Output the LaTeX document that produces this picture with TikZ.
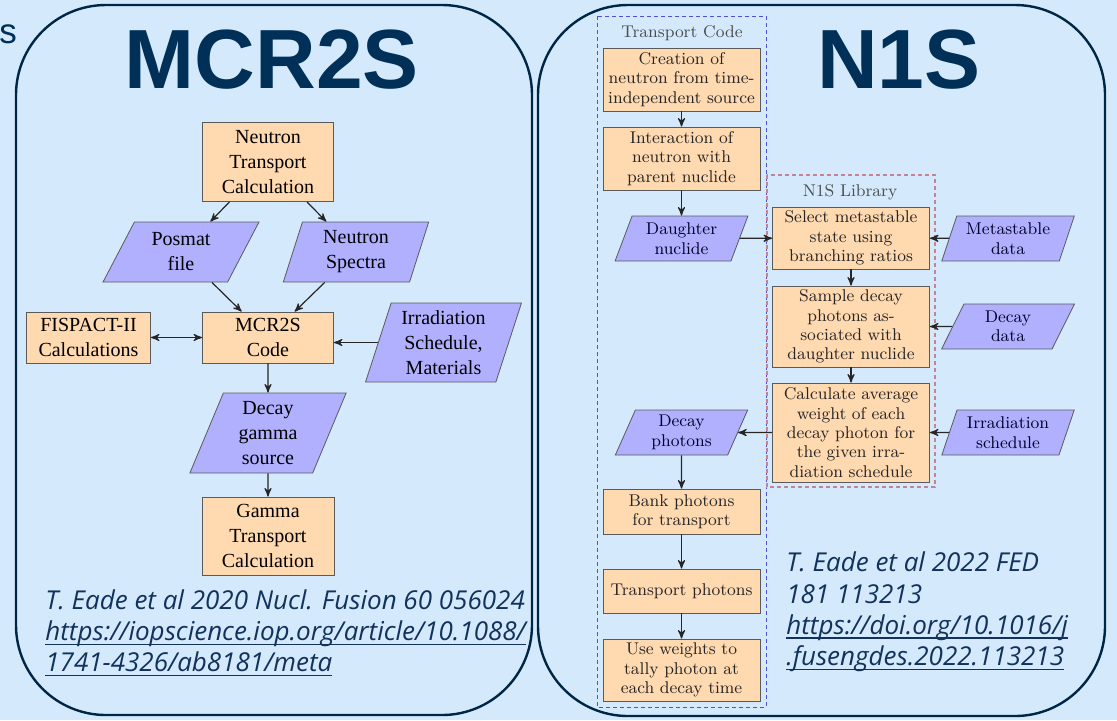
\documentclass[tikz,border=0pt]{standalone}
\usepackage{fontspec}
\newfontfamily\headfont{Liberation Sans}
\newfontfamily\timesfont{Liberation Serif}
\newfontfamily\citefont{Open Sans}
\usetikzlibrary{arrows,shapes.geometric}

\definecolor{bgblue}{RGB}{212,234,252}
\definecolor{navy}{RGB}{0,48,87}
\definecolor{citeblue}{RGB}{18,50,92}
\definecolor{boxorange}{RGB}{255,217,176}
\definecolor{iopurple}{RGB}{176,176,255}
\definecolor{edgegray}{RGB}{90,90,90}
\definecolor{tcblue}{RGB}{80,80,210}
\definecolor{libpink}{RGB}{200,130,150}

\newcommand{\ulink}[1]{\setbox0\hbox{#1}\rlap{\rule[-2.2pt]{\wd0}{0.7pt}}\box0}

\tikzset{
  panel/.style={draw=navy!80!black, line width=1.2pt, rounded corners=45pt},
  title/.style={text=navy, font=\headfont\bfseries\fontsize{42}{42}\selectfont, inner sep=0pt},
  mbox/.style={draw=edgegray, fill=boxorange, align=center, text width=60pt,
    inner sep=1pt, font=\timesfont\fontsize{10}{12.5}\selectfont},
  mio/.style 2 args={trapezium, trapezium left angle=#1, trapezium right angle=#2,
    trapezium stretches=true, draw=edgegray, fill=iopurple, align=center,
    inner sep=1pt, font=\timesfont\fontsize{10}{12.5}\selectfont},
  nbox/.style={draw=edgegray, fill=boxorange, align=center, text width=74pt,
    minimum width=78.5pt, inner sep=1pt, text=black!85,
    font=\fontsize{8.5}{9.7}\selectfont},
  nio/.style={trapezium, trapezium left angle=70, trapezium right angle=110,
    trapezium stretches=true, minimum width=66.5pt, minimum height=22.5pt,
    draw=edgegray, fill=iopurple, align=center, inner sep=1pt,
    text=black!60!blue!40!black, font=\fontsize{8.5}{9.7}\selectfont},
  grouplabel/.style={text=black!70, font=\fontsize{8.5}{9.7}\selectfont, inner sep=0pt},
  cite/.style={text=citeblue, align=left, inner sep=0pt,
    font=\citefont\itshape\fontsize{13}{15.6}\selectfont},
  arr/.style={-stealth', line width=0.6pt, black!85}
}

\begin{document}
\begin{tikzpicture}[x=0.5pt,y=-0.5pt]
  \fill[bgblue] (0,0) rectangle (1117,720);
  \useasboundingbox (0,0) rectangle (1117,720);

  % panels and titles
  \draw[panel] (16,5) rectangle (532,715);
  \draw[panel] (538,5) rectangle (1105,716);
  \node[anchor=base west, text=navy, inner sep=0pt,
    font=\headfont\fontsize{17.5}{17.5}\selectfont] (cut) at (-1,43) {s};
  \node[title] (mtitle) at (272,60) {MCR2S};
  \node[title] (ntitle) at (899,60) {N1S};

  % MCR2S
  \node[mbox, minimum width=65.5pt, minimum height=39.5pt] (ntc) at (268,162) {Neutron\\Transport\\Calculation};
  \node[mio={63.4}{116.6}, minimum width=78pt, minimum height=30pt] (posmat) at (181,252) {Posmat\\file};
  \node[mio={75}{105}, minimum width=73pt, minimum height=30pt] (spectra) at (356,252) {Neutron\\Spectra};
  \node[mbox, minimum width=65.5pt, minimum height=25.5pt] (code) at (268,337.5) {MCR2S\\Code};
  \node[mbox, minimum width=61.5pt, minimum height=25.5pt] (fispact) at (88.5,337.5) {FISPACT-II\\Calculations};
  \node[mio={72.4}{107.6}, minimum width=78.5pt, minimum height=39.5pt] (irr) at (443.5,342.5) {Irradiation\\Schedule,\\Materials};
  \node[mio={70.7}{109.3}, minimum width=78.5pt, minimum height=40pt] (decay) at (268,433) {Decay\\gamma\\source};
  \node[mbox, minimum width=66pt, minimum height=39pt] (gamma) at (268,536) {Gamma\\Transport\\Calculation};

  \draw[arr] (ntc) -- (posmat);
  \draw[arr] (ntc) -- (spectra);
  \draw[arr] (posmat) -- (code);
  \draw[arr] (spectra) -- (code);
  \draw[stealth'-stealth', line width=0.6pt, black!85] (fispact) -- (code);
  \draw[arr] (irr.west) -- (code.east |- irr.west);
  \draw[arr] (code) -- (decay);
  \draw[arr] (decay) -- (gamma);

  % N1S groups
  \draw[tcblue, dash pattern=on 2pt off 1.5pt, line width=0.5pt] (597,16) rectangle (766,707);
  \draw[libpink, dash pattern=on 2pt off 1.5pt, line width=0.6pt] (767,175) rectangle (935,487);
  \node[grouplabel] (tclabel) at (682,33) {Transport Code};
  \node[grouplabel] (liblabel) at (850,192) {N1S Library};

  % N1S transport code
  \node[nbox, minimum height=31.5pt] (create) at (681.5,79.5) {Creation of\\neutron from time-\\independent source};
  \node[nbox, minimum height=31.5pt] (interact) at (681.5,158.5) {Interaction of\\neutron with\\parent nuclide};
  \node[nio] (daughter) at (681.5,238.5) {Daughter\\nuclide};
  \node[nio] (dphot) at (681.5,432.5) {Decay\\photons};
  \node[nbox, minimum height=22.5pt] (bank) at (681.5,511.5) {Bank photons\\for transport};
  \node[nbox, minimum height=22pt] (tphot) at (681.5,591) {Transport photons};
  \node[nbox, minimum height=31pt] (usew) at (681.5,670) {Use weights to\\tally photon at\\each decay time};

  % N1S library
  \node[nbox, minimum height=31pt] (select) at (851,238) {Select metastable\\state using\\branching ratios};
  \node[nbox, minimum height=40.5pt] (sample) at (851,326.5) {Sample decay\\photons as-\\sociated with\\daughter nuclide};
  \node[nbox, minimum height=49.5pt] (calc) at (851,432.5) {Calculate average\\weight of each\\decay photon for\\the given irra-\\diation schedule};
  \node[nio] (meta) at (1008,238.5) {Metastable\\data};
  \node[nio] (ddata) at (1008,326.5) {Decay\\data};
  \node[nio] (irrs) at (1008,432.5) {Irradiation\\schedule};

  \draw[arr] (create) -- (interact);
  \draw[arr] (interact) -- (daughter);
  \draw[arr] (daughter) -- (select);
  \draw[arr] (meta) -- (select);
  \draw[arr] (select) -- (sample);
  \draw[arr] (ddata) -- (sample);
  \draw[arr] (sample) -- (calc);
  \draw[arr] (irrs) -- (calc);
  \draw[arr] (calc) -- (dphot);
  \draw[arr] (dphot) -- (bank);
  \draw[arr] (bank) -- (tphot);
  \draw[arr] (tphot) -- (usew);

  % references
  \node[cite, anchor=west] (mcite) at (45,633) {T. Eade et al 2020 Nucl. Fusion 60 056024\\
    \ulink{https://iopscience.iop.org/article/10.1088/}\\
    \ulink{1741-4326/ab8181/meta}};
  \node[cite, anchor=west] (ncite) at (786,612) {T. Eade et al 2022 FED\\
    181 113213\\
    \ulink{https://doi.org/10.1016/j}\\
    \ulink{.fusengdes.2022.113213}};
\end{tikzpicture}
\end{document}
